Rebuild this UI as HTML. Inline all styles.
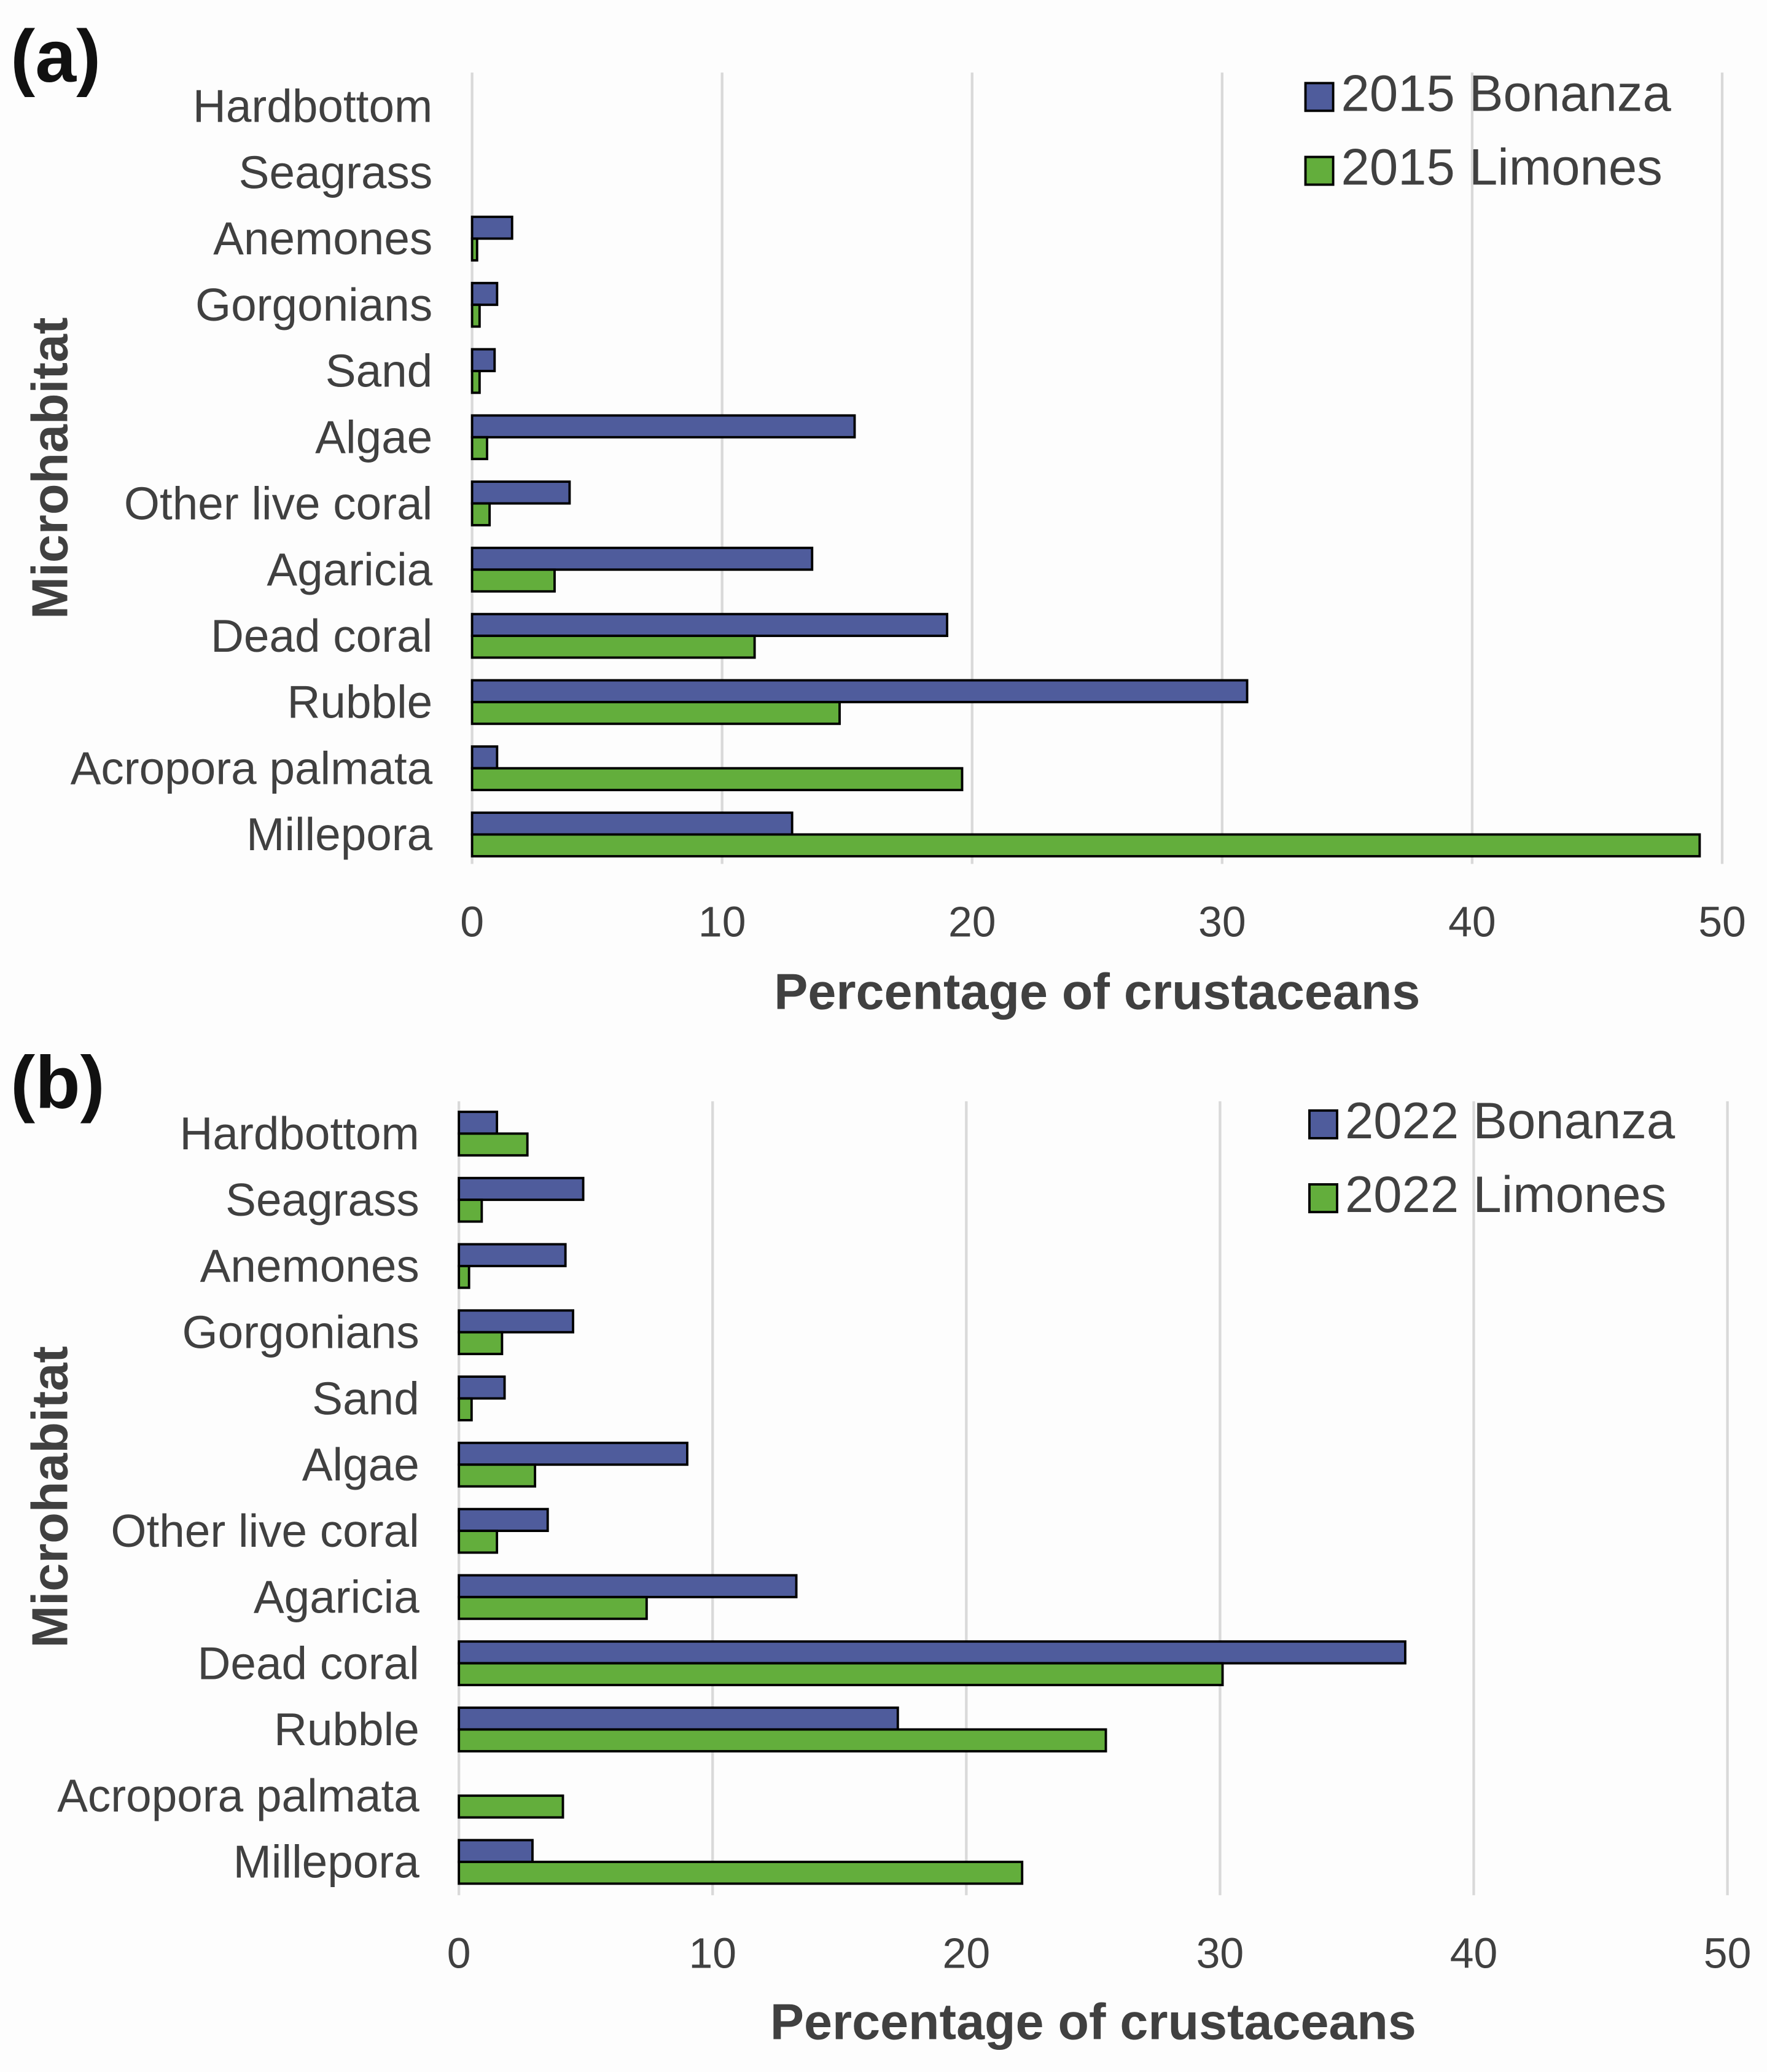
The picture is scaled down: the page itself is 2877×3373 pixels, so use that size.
<!DOCTYPE html>
<html><head><meta charset="utf-8"><style>
html,body{margin:0;padding:0;background:#fdfdfd}
svg{display:block}
text{font-family:"Liberation Sans",Arial,sans-serif}
</style></head><body>
<svg id="chart" width="2877" height="3373" viewBox="0 0 1340 1571" xmlns="http://www.w3.org/2000/svg">
<rect x="0" y="0" width="1340" height="1571" fill="#fdfdfd"/>
</svg>
<script>
const categories = ["Hardbottom","Seagrass","Anemones","Gorgonians","Sand","Algae","Other live coral","Agaricia","Dead coral","Rubble","Acropora palmata","Millepora"];
const bonanza2015 = [0,0,1.6,1.0,0.9,15.3,3.9,13.6,19.0,31.0,1.0,12.8];
const limones2015 = [0,0,0.2,0.3,0.3,0.6,0.7,3.3,11.3,14.7,19.6,49.1];
const bonanza2022 = [1.5,4.9,4.2,4.5,1.8,9.0,3.5,13.3,37.3,17.3,0,2.9];
const limones2022 = [2.7,0.9,0.4,1.7,0.5,3.0,1.5,7.4,30.1,25.5,4.1,22.2];
const tickLabels = [0,10,20,30,40,50];
const legendA = ["2015 Bonanza","2015 Limones"];
const legendB = ["2022 Bonanza","2022 Limones"];

const NS="http://www.w3.org/2000/svg";
const svg=document.getElementById('chart');
function mk(tag,attrs,parent){const e=document.createElementNS(NS,tag);for(const k in attrs)e.setAttribute(k,attrs[k]);(parent||svg).appendChild(e);return e;}
const BLUE="#4f5c9c",GREEN="#63ae3c",TXT="#404040";

function panel(p){
  const g=mk('g',{});
  
  
  const xs=v=>p.x0+(p.x50-p.x0)*v/50;
  const yc=i=>p.yFirst+i*p.step;
  tickLabels.forEach(t=>{
    const gl=mk('line',{x1:xs(t),x2:xs(t),y1:p.gTop,y2:p.gBot,stroke:"#d9d9d9","stroke-width":2},g);
    
    
    const tl=mk('text',{x:xs(t),y:p.tickY,"text-anchor":"middle","font-size":32.5,fill:TXT},g);
    tl.textContent=t;
    
    
  });
  categories.forEach((c,i)=>{
    const lb=mk('text',{x:p.labelX,y:yc(i)+12,"text-anchor":"end","font-size":34.8,fill:TXT},g);
    lb.textContent=c;
    
    
    const h=16.5;
    if(p.b[i]>0){
      const r=mk('rect',{x:xs(0),y:yc(i)-h,width:xs(p.b[i])-xs(0),height:h,fill:BLUE,stroke:"#000","stroke-width":1.8},g);
      
      
    }
    if(p.l[i]>0){
      const r=mk('rect',{x:xs(0),y:yc(i),width:xs(p.l[i])-xs(0),height:h,fill:GREEN,stroke:"#000","stroke-width":1.8},g);
      
      
    }
  });
  const xt=mk('text',{x:(xs(0)+xs(50))/2,y:p.titleY,"text-anchor":"middle","font-size":38.5,"font-weight":"bold",fill:TXT},g);
  xt.textContent="Percentage of crustaceans";
  
  
  const yt=mk('text',{x:0,y:0,"text-anchor":"middle","font-size":38.5,"font-weight":"bold",fill:TXT,transform:`translate(51,${p.yMid}) rotate(-90)`},g);
  yt.textContent="Microhabitat";
  
  
  const pl=mk('text',{x:8,y:p.panelY,"font-size":56,"font-weight":"bold",fill:"#111"},g);
  pl.textContent=p.letter;
  
  
  [BLUE,GREEN].forEach((col,k)=>{
    const ly=p.legY+k*56;
    const sq=mk('rect',{x:p.legX,y:ly-21,width:21,height:21,fill:col,stroke:"#000","stroke-width":1.8},g);
    
    
    const lt=mk('text',{x:p.legX+27,y:ly,"font-size":38.8,fill:TXT},g);
    lt.textContent=p.leg[k];
    
    
  });
}
panel({name:'panel-a',letter:'(a)',x0:358,x50:1306,yFirst:80.5,step:50.2,gTop:55,gBot:655,tickY:710,titleY:765,labelX:328,panelY:62,yMid:355,legX:990,legY:84,leg:legendA,b:bonanza2015,l:limones2015});
panel({name:'panel-b',letter:'(b)',x0:348,x50:1310,yFirst:859.5,step:50.2,gTop:835,gBot:1437,tickY:1492,titleY:1546,labelX:318,panelY:840,yMid:1135,legX:993,legY:863,leg:legendB,b:bonanza2022,l:limones2022});
</script>
</body></html>
